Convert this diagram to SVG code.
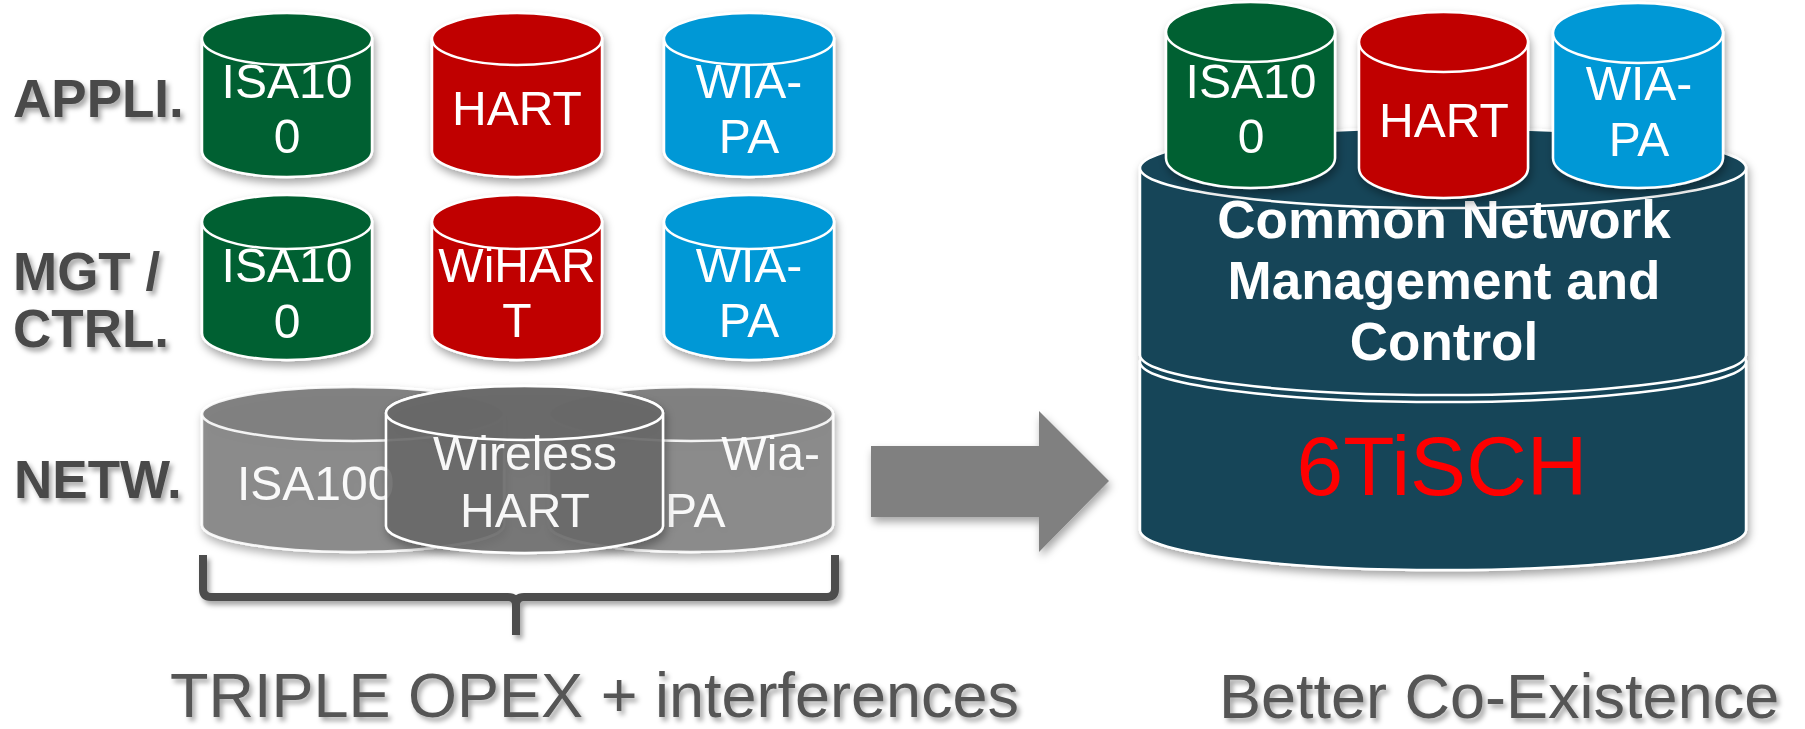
<svg xmlns="http://www.w3.org/2000/svg" width="1805" height="729" viewBox="0 0 1805 729">
<defs>
  <filter id="shadow" x="-10%" y="-10%" width="125%" height="130%">
    <feDropShadow dx="2" dy="5" stdDeviation="4" flood-color="#000" flood-opacity="0.35"/>
  </filter>
  <filter id="tshadow" x="-10%" y="-20%" width="125%" height="150%">
    <feDropShadow dx="3" dy="4" stdDeviation="2.5" flood-color="#000" flood-opacity="0.35"/>
  </filter>
  <style>
    .lbl{font-family:"Liberation Sans",Arial,sans-serif;font-weight:bold;font-size:53px;fill:#4a4a4a;filter:url(#tshadow)}
    .cap{font-family:"Liberation Sans",Arial,sans-serif;font-size:63px;fill:#555555;filter:url(#tshadow)}
    .ct{font-family:"Liberation Sans",Arial,sans-serif;font-size:48px;fill:#ffffff;text-anchor:middle}
    .ctb{font-family:"Liberation Sans",Arial,sans-serif;font-size:53px;font-weight:bold;fill:#ffffff;text-anchor:middle}
    .body{stroke:#ffffff;stroke-width:2.5}
    .top{stroke:#ffffff;stroke-width:2.5}
    .green{fill:#036131}
    .red{fill:#c00000}
    .blue{fill:#0398d6}
    .teal{fill:#134559}
    .gray{fill:#808080;fill-opacity:0.85;stroke:#ffffff;stroke-width:2.5;stroke-opacity:0.9}
    .grayd{fill:#6a6a6a;fill-opacity:0.85;stroke:#ffffff;stroke-width:2.5}
  </style>
</defs>
<rect width="1805" height="729" fill="#ffffff"/>

<!-- Row labels -->
<g id="label-appli"><text class="lbl" x="13" y="117">APPLI.</text></g>
<g id="label-mgt"><text class="lbl" x="13" y="290">MGT /</text><text class="lbl" x="13" y="347">CTRL.</text></g>
<g id="label-netw"><text class="lbl" x="14" y="498">NETW.</text></g>

<!-- Left application row -->
<g id="appli-isa100" filter="url(#shadow)">
  <path class="green body" d="M202 39 L202 151 A85 26 0 0 0 372 151 L372 39 Z"/>
  <ellipse class="green top" cx="287" cy="39" rx="85" ry="26"/>
  <text class="ct" x="287" y="98">ISA10</text><text class="ct" x="287" y="153">0</text>
</g>
<g id="appli-hart" filter="url(#shadow)">
  <path class="red body" d="M432 39 L432 151 A85 26 0 0 0 602 151 L602 39 Z"/>
  <ellipse class="red top" cx="517" cy="39" rx="85" ry="26"/>
  <text class="ct" x="517" y="125">HART</text>
</g>
<g id="appli-wiapa" filter="url(#shadow)">
  <path class="blue body" d="M664 39 L664 151 A85 26 0 0 0 834 151 L834 39 Z"/>
  <ellipse class="blue top" cx="749" cy="39" rx="85" ry="26"/>
  <text class="ct" x="749" y="98">WIA-</text><text class="ct" x="749" y="153">PA</text>
</g>

<!-- Left management row -->
<g id="mgt-isa100" filter="url(#shadow)">
  <path class="green body" d="M202 222 L202 333 A85 27 0 0 0 372 333 L372 222 Z"/>
  <ellipse class="green top" cx="287" cy="222" rx="85" ry="27"/>
  <text class="ct" x="287" y="282">ISA10</text><text class="ct" x="287" y="338">0</text>
</g>
<g id="mgt-wihart" filter="url(#shadow)">
  <path class="red body" d="M432 222 L432 333 A85 27 0 0 0 602 333 L602 222 Z"/>
  <ellipse class="red top" cx="517" cy="222" rx="85" ry="27"/>
  <text class="ct" x="517" y="282">WiHAR</text><text class="ct" x="517" y="337">T</text>
</g>
<g id="mgt-wiapa" filter="url(#shadow)">
  <path class="blue body" d="M664 222 L664 333 A85 27 0 0 0 834 333 L834 222 Z"/>
  <ellipse class="blue top" cx="749" cy="222" rx="85" ry="27"/>
  <text class="ct" x="749" y="282">WIA-</text><text class="ct" x="749" y="337">PA</text>
</g>

<!-- Network row (overlapping gray) -->
<g id="netw-isa100" filter="url(#shadow)">
  <path class="gray" d="M202 414 L202 525 A151 27 0 0 0 504 525 L504 414 A151 27 0 0 0 202 414 Z"/>
  <ellipse class="gray" cx="353" cy="414" rx="151" ry="27" fill-opacity="0.12"/>
  <text class="ct" x="237" y="500" style="text-anchor:start;fill-opacity:0.95">ISA100</text>
</g>
<g id="netw-wiapa" filter="url(#shadow)">
  <path class="gray" d="M549 414 L549 525 A142 27 0 0 0 833 525 L833 414 A142 27 0 0 0 549 414 Z"/>
  <ellipse class="gray" cx="691" cy="414" rx="142" ry="27" fill-opacity="0.12"/>
  <text class="ct" x="820" y="470" style="text-anchor:end;fill-opacity:0.95">Wia-</text>
  <text class="ct" x="665" y="527" style="text-anchor:start;fill-opacity:0.95">PA</text>
</g>
<g id="netw-wirelesshart" filter="url(#shadow)">
  <path class="grayd" d="M386 413 L386 526 A138.5 27 0 0 0 663 526 L663 413 A138.5 27 0 0 0 386 413 Z"/>
  <ellipse class="grayd" cx="524.5" cy="413" rx="138.5" ry="27" fill-opacity="0.1"/>
  <text class="ct" x="525" y="470" style="fill-opacity:0.95">Wireless</text>
  <text class="ct" x="525" y="527" style="fill-opacity:0.95">HART</text>
</g>

<!-- Right stack -->
<g id="common-layer" filter="url(#shadow)">
  <path class="teal body" d="M1140 362 L1140 530 A303 40 0 0 0 1746 530 L1746 362 Z"/>
  <ellipse class="teal top" cx="1443" cy="362" rx="303" ry="40"/>
  <path class="teal body" d="M1140 168 L1140 355 A303 40 0 0 0 1746 355 L1746 168 Z"/>
  <ellipse class="teal top" cx="1443" cy="168" rx="303" ry="40"/>
  <text class="ctb" x="1444" y="238">Common Network</text>
  <text class="ctb" x="1444" y="299">Management and</text>
  <text class="ctb" x="1444" y="360">Control</text>
  <text x="1442" y="495" style="font-family:'Liberation Sans',Arial,sans-serif;font-size:84px;fill:#ff0000;text-anchor:middle">6TiSCH</text>
</g>
<g id="right-isa100" filter="url(#shadow)">
  <path class="green body" d="M1166 32 L1166 158 A84.5 30 0 0 0 1335 158 L1335 32 Z"/>
  <ellipse class="green top" cx="1250.5" cy="32" rx="84.5" ry="30"/>
  <text class="ct" x="1251" y="98">ISA10</text><text class="ct" x="1251" y="153">0</text>
</g>
<g id="right-hart" filter="url(#shadow)">
  <path class="red body" d="M1359 42 L1359 168 A84.5 30 0 0 0 1528 168 L1528 42 Z"/>
  <ellipse class="red top" cx="1443.5" cy="42" rx="84.5" ry="30"/>
  <text class="ct" x="1444" y="137">HART</text>
</g>
<g id="right-wiapa" filter="url(#shadow)">
  <path class="blue body" d="M1553 33 L1553 158 A85 30 0 0 0 1723 158 L1723 33 Z"/>
  <ellipse class="blue top" cx="1638" cy="33" rx="85" ry="30"/>
  <text class="ct" x="1639" y="100">WIA-</text><text class="ct" x="1639" y="156">PA</text>
</g>

<!-- Connectors -->
<g id="connectors">
  <path d="M871 446 L1039 446 L1039 411 L1109 481 L1039 552 L1039 517 L871 517 Z" fill="#808080" filter="url(#shadow)"/>
  <path d="M203 555 L203 589 Q203 597 211 597 L508 597 Q516 597 516 605 L516 635 M516 605 Q516 597 524 597 L827 597 Q835 597 835 589 L835 555" fill="none" stroke="#4d4d4d" stroke-width="8" stroke-linejoin="round" filter="url(#tshadow)"/>
</g>

<!-- Captions -->
<g id="caption-left"><text class="cap" x="170" y="717">TRIPLE OPEX + interferences</text></g>
<g id="caption-right"><text class="cap" x="1219" y="718">Better Co-Existence</text></g>
</svg>
